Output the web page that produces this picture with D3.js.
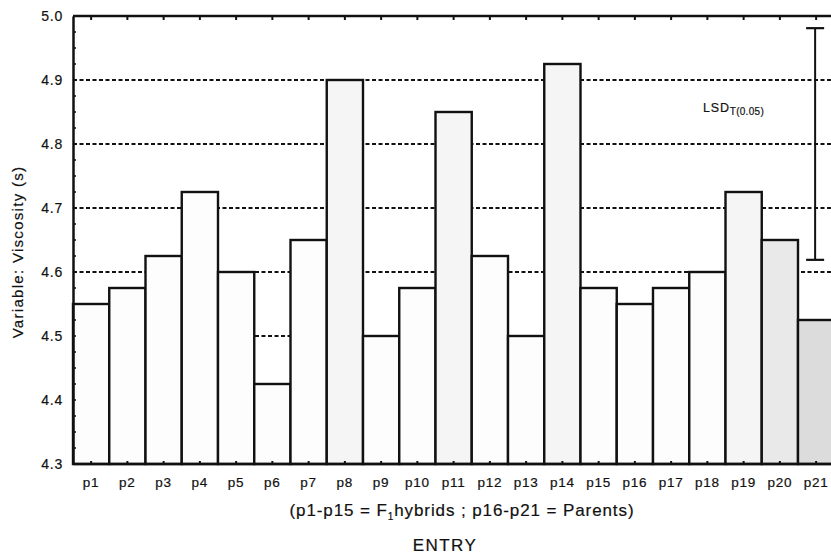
<!DOCTYPE html>
<html><head><meta charset="utf-8">
<script src="https://cdn.jsdelivr.net/npm/d3@7"></script>
<style>body{margin:0;background:#fff}svg{display:block}text{font-family:Arial,"Liberation Sans",sans-serif;fill:#111;stroke:#111;stroke-width:0.2px}</style>
</head><body><svg id="c" width="831" height="554"></svg>
<script>
const categories = ["p1","p2","p3","p4","p5","p6","p7","p8","p9","p10","p11","p12","p13","p14","p15","p16","p17","p18","p19","p20","p21"];
const viscosity = [4.55,4.575,4.625,4.725,4.60,4.425,4.65,4.90,4.50,4.575,4.85,4.625,4.50,4.925,4.575,4.55,4.575,4.60,4.725,4.65,4.525];
const shade = [0,0,0,0,0,0,0,1,0,0,1,0,0,1,0,0,0,0,1,2,3];
const yTicks = [4.3,4.4,4.5,4.6,4.7,4.8,4.9,5.0];
const gridValues = [4.5,4.6,4.7,4.8,4.9];
const lsd = {x:"p21", low:4.619, high:4.981};

const svg = d3.select("#c");
const m = {l:73, r:831, t:16, b:464};
const x = d3.scaleBand().domain(categories).range([m.l, m.l + 21*36.25]).padding(0);
const y = d3.scaleLinear().domain([4.3,5.0]).range([m.b, m.t]);
const fills = ["#fdfdfd","#f5f5f5","#e9e9e9","#dcdcdc"];

// grid
svg.append("g").selectAll("line").data(gridValues).join("line")
  .attr("x1", m.l).attr("x2", m.r).attr("y1", d=>y(d)).attr("y2", d=>y(d))
  .attr("stroke","#111").attr("stroke-width",2).attr("stroke-dasharray","4,2.5");

// bars
svg.append("g").selectAll("rect").data(categories).join("rect")
  .attr("x", d=>x(d)).attr("width", x.bandwidth())
  .attr("y", (d,i)=>y(viscosity[i])).attr("height", (d,i)=>y(4.3)-y(viscosity[i]))
  .attr("fill",(d,i)=>fills[shade[i]]).attr("stroke","#111").attr("stroke-width",2.4);

// axes
const yAxis = d3.axisLeft(y).tickValues(yTicks).tickFormat(d3.format(".1f")).tickSize(0).tickPadding(10);
const gy = svg.append("g").attr("transform",`translate(${m.l},0)`).call(yAxis);
gy.select(".domain").attr("stroke","#111").attr("stroke-width",2.5);
gy.selectAll("text").style("font-size","14px").style("font-family","Arial").style("letter-spacing","0.8px");
// minor ticks inside left
const minor = d3.range(0,29).map(i=>4.3+i*0.025);
svg.append("g").selectAll("line").data(minor).join("line")
  .attr("x1",m.l).attr("x2",m.l+3).attr("y1",d=>y(d)).attr("y2",d=>y(d))
  .attr("stroke","#111").attr("stroke-width",1.5);

const xAxis = d3.axisBottom(x).tickSize(0).tickPadding(13);
const gx = svg.append("g").attr("transform",`translate(0,${m.b})`).call(xAxis);
gx.select(".domain").remove();
gx.selectAll("text").style("font-size","13.5px").style("font-family","Arial").style("letter-spacing","0.8px");
svg.append("line").attr("x1",m.l).attr("x2",m.r).attr("y1",m.b).attr("y2",m.b).attr("stroke","#111").attr("stroke-width",2.5);
svg.append("line").attr("x1",m.l).attr("x2",m.r).attr("y1",m.t).attr("y2",m.t).attr("stroke","#111").attr("stroke-width",2.5);
// top & bottom ticks inside
svg.append("g").selectAll("line").data(categories).join("line")
  .attr("x1",d=>x(d)+x.bandwidth()/2).attr("x2",d=>x(d)+x.bandwidth()/2)
  .attr("y1",m.t).attr("y2",m.t+4).attr("stroke","#111").attr("stroke-width",2);
svg.append("g").selectAll("line").data(categories).join("line")
  .attr("x1",d=>x(d)+x.bandwidth()/2).attr("x2",d=>x(d)+x.bandwidth()/2)
  .attr("y1",m.b).attr("y2",m.b-3).attr("stroke","#111").attr("stroke-width",2);

// LSD bar
const lx = x(lsd.x) + x.bandwidth()/2 - 1;
svg.append("line").attr("x1",lx).attr("x2",lx).attr("y1",y(lsd.high)).attr("y2",y(lsd.low)).attr("stroke","#111").attr("stroke-width",2);
[lsd.high, lsd.low].forEach(v=>svg.append("line").attr("x1",lx-9).attr("x2",lx+9).attr("y1",y(v)).attr("y2",y(v)).attr("stroke","#111").attr("stroke-width",2.2));
const lt = svg.append("text").attr("x",703).attr("y",112).style("font-size","12.5px").style("letter-spacing","0.8px");
lt.append("tspan").text("LSD");
lt.append("tspan").attr("dy",3).style("font-size","10px").style("letter-spacing","0.3px").text("T(0.05)");

// titles
svg.append("text").attr("transform",`translate(23,252) rotate(-90)`).attr("text-anchor","middle").style("font-size","15px").style("letter-spacing","1.3px").text("Variable: Viscosity (s)");
const sub = svg.append("text").attr("x",462).attr("y",516).attr("text-anchor","middle").style("font-size","17px").style("letter-spacing","0.9px");
sub.append("tspan").text("(p1-p15 = F");
sub.append("tspan").attr("dy",4).style("font-size","10px").text("1");
sub.append("tspan").attr("dy",-4).text("hybrids ; p16-p21 = Parents)");
svg.append("text").attr("x",445).attr("y",551).attr("text-anchor","middle").style("font-size","17px").style("letter-spacing","1.4px").text("ENTRY");
</script></body></html>
